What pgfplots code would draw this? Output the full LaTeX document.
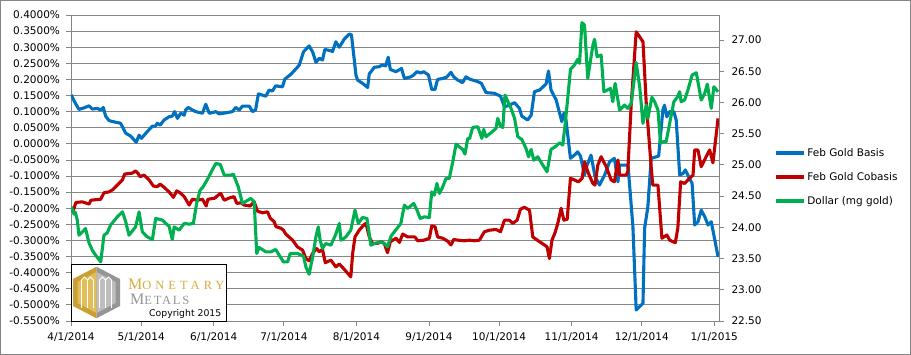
\documentclass[border=0pt]{standalone}
\usepackage{pgfplots}
\pgfplotsset{compat=1.18}
\usepackage{fontspec}
\setmainfont{DejaVu Sans}
\newfontfamily\logoserif[LetterSpace=32]{Liberation Serif}
\newfontfamily\logoserifb[LetterSpace=14]{Liberation Serif}
\definecolor{xblue}{RGB}{0,112,192}
\definecolor{xred}{RGB}{192,0,0}
\definecolor{xgreen}{RGB}{0,176,80}
\definecolor{gridgray}{RGB}{134,134,134}
\definecolor{goldA}{RGB}{201,160,52}
\definecolor{goldB}{RGB}{226,190,90}
\definecolor{goldT}{RGB}{214,172,60}
\definecolor{metalA}{RGB}{150,150,150}
\definecolor{metalB}{RGB}{190,190,190}
\begin{document}
\begin{tikzpicture}[x=1pt,y=1pt]
\useasboundingbox (0,0) rectangle (911,355);
\fill[white] (0,0) rectangle (911,355);
\draw[gridgray, line width=1pt] (0.5,0.5) rectangle (910.5,354.5);
\pgfplotsset{
  every axis/.append style={
    at={(71pt,34pt)}, anchor=south west, scale only axis,
    width=648pt, height=306pt, xmin=0, xmax=277,
    /pgf/number format/assume math mode=true,
    axis line style={gridgray, line width=0.8pt},
    major tick length=5pt, tick align=outside,
    tick style={gridgray, line width=0.8pt},
    tick label style={font=\fontsize{10.5}{12}\selectfont},
    line join=round,
  }
}
\begin{axis}[
  ymin=-0.55, ymax=0.4,
  axis x line*=bottom, axis y line*=left,
  ytick={-0.55,-0.5,-0.45,-0.4,-0.35,-0.3,-0.25,-0.2,-0.15,-0.1,-0.05,0,0.05,0.1,0.15,0.2,0.25,0.3,0.35,0.4},
  yticklabel={\pgfmathprintnumber[fixed,fixed zerofill,precision=4]{\tick}\%},
  yticklabel style={xshift=-2.5pt},
  xticklabel style={yshift=-3pt},
  xtick={0,30,61,91,122,153,183,214,244,275},
  xticklabels={4/1/2014,5/1/2014,6/1/2014,7/1/2014,8/1/2014,9/1/2014,10/1/2014,11/1/2014,12/1/2014,1/1/2015},
  ymajorgrids, major grid style={gridgray, line width=0.8pt},
]
\addplot[xblue, line width=3.1pt] table {
0.1 0.152
1.5 0.131
3.4 0.107
5.3 0.111
7.7 0.118
9.1 0.108
11.3 0.110
12.7 0.105
13.8 0.113
14.8 0.086
16.3 0.072
19.1 0.067
21.2 0.064
22.4 0.047
23.4 0.033
25.5 0.024
27.0 0.012
27.9 0.005
29.1 0.027
30.1 0.017
32.6 0.038
34.8 0.055
36.1 0.055
36.9 0.064
38.1 0.058
39.8 0.074
41.9 0.084
43.3 0.086
44.3 0.100
45.5 0.079
46.9 0.095
48.4 0.089
49.0 0.105
50.1 0.113
51.9 0.105
53.3 0.100
56.2 0.095
57.6 0.123
59.1 0.095
60.5 0.097
61.9 0.100
63.3 0.093
66.0 0.096
69.0 0.100
70.4 0.113
71.9 0.105
73.3 0.117
76.2 0.117
77.6 0.100
78.9 0.105
80.1 0.155
83.3 0.148
84.7 0.167
86.1 0.164
87.5 0.180
90.4 0.177
91.4 0.201
94.0 0.216
96.8 0.238
97.6 0.245
99.4 0.286
101.8 0.304
103.3 0.285
104.7 0.253
106.2 0.266
107.5 0.260
108.5 0.293
111.1 0.289
111.8 0.286
113.2 0.317
114.7 0.300
116.8 0.325
119.0 0.341
119.9 0.338
121.8 0.214
122.5 0.198
124.6 0.188
126.8 0.175
127.5 0.217
129.7 0.238
131.5 0.239
133.2 0.245
134.5 0.242
135.6 0.269
136.5 0.231
138.9 0.224
140.1 0.229
141.3 0.234
142.5 0.203
145.3 0.208
146.5 0.214
147.9 0.224
149.5 0.220
150.7 0.224
152.8 0.214
154.2 0.169
155.6 0.169
156.7 0.200
158.9 0.203
160.6 0.207
162.4 0.222
163.6 0.208
165.3 0.198
167.4 0.190
168.8 0.208
170.4 0.201
173.9 0.193
175.4 0.188
177.4 0.159
181.0 0.157
182.4 0.152
183.6 0.148
185.3 0.115
187.4 0.120
189.6 0.128
191.7 0.110
192.7 0.086
195.2 0.074
196.7 0.089
198.1 0.162
200.3 0.167
203.1 0.186
204.1 0.226
205.2 0.167
207.4 0.136
209.8 0.069
210.7 0.095
211.6 0.074
213.5 -0.045
215.2 -0.035
216.6 -0.025
217.8 -0.038
219.5 -0.097
220.6 -0.066
222.3 -0.035
224.0 -0.102
225.9 -0.128
228.1 -0.097
230.2 -0.056
232.3 -0.045
233.8 -0.118
234.5 -0.066
238.1 -0.066
240.2 -0.257
241.6 -0.516
244.5 -0.495
245.2 -0.262
246.6 -0.195
248.0 -0.045
251.2 -0.038
253.0 0.105
253.7 0.120
254.7 0.084
255.9 0.100
257.7 0.100
258.7 0.074
260.2 -0.097
261.6 -0.092
262.6 -0.081
263.7 -0.097
265.5 -0.123
266.6 -0.252
268.0 -0.242
269.4 -0.206
270.9 -0.226
272.3 -0.252
273.7 -0.242
276.6 -0.351
};
\addplot[xred, line width=3.1pt] table {
0.6 -0.211
1.3 -0.200
2.1 -0.182
4.8 -0.180
7.7 -0.187
8.5 -0.175
12.7 -0.172
14.1 -0.152
16.3 -0.149
17.7 -0.143
19.8 -0.128
22.0 -0.112
22.9 -0.094
24.8 -0.092
26.2 -0.091
27.6 -0.084
28.7 -0.092
29.5 -0.102
31.2 -0.097
33.4 -0.112
35.2 -0.131
36.9 -0.133
38.1 -0.125
39.8 -0.135
41.9 -0.149
43.8 -0.166
45.2 -0.146
46.8 -0.153
48.4 -0.164
50.5 -0.190
51.9 -0.172
54.0 -0.175
56.2 -0.172
57.8 -0.193
58.5 -0.172
61.3 -0.169
63.5 -0.156
64.0 -0.154
65.5 -0.175
67.7 -0.168
69.7 -0.164
70.9 -0.185
72.6 -0.183
74.0 -0.190
76.6 -0.193
78.3 -0.180
79.7 -0.209
81.9 -0.214
84.0 -0.211
85.2 -0.231
86.9 -0.242
87.6 -0.257
89.7 -0.262
90.8 -0.268
91.8 -0.280
94.7 -0.299
96.8 -0.320
99.0 -0.330
100.4 -0.356
101.8 -0.363
103.3 -0.340
105.0 -0.325
106.1 -0.335
107.5 -0.328
108.7 -0.369
111.1 -0.361
113.2 -0.382
114.7 -0.373
116.5 -0.387
119.6 -0.413
120.4 -0.340
121.4 -0.289
123.2 -0.268
125.4 -0.250
126.1 -0.247
127.5 -0.289
128.9 -0.309
131.1 -0.309
132.5 -0.304
133.9 -0.309
135.3 -0.338
136.5 -0.304
138.9 -0.293
140.4 -0.306
141.8 -0.280
143.9 -0.289
147.0 -0.289
148.2 -0.301
151.0 -0.299
153.2 -0.293
154.2 -0.255
155.6 -0.257
156.7 -0.289
158.9 -0.293
161.0 -0.302
162.4 -0.314
163.6 -0.297
165.3 -0.299
168.2 -0.301
170.4 -0.299
172.4 -0.301
174.6 -0.299
176.7 -0.273
178.9 -0.268
181.7 -0.266
183.6 -0.273
185.3 -0.237
187.4 -0.237
188.8 -0.247
190.7 -0.237
192.1 -0.203
193.8 -0.197
196.0 -0.206
197.4 -0.289
200.3 -0.304
202.4 -0.314
203.5 -0.320
204.5 -0.356
205.6 -0.299
206.9 -0.276
208.1 -0.247
209.5 -0.200
210.7 -0.237
212.1 -0.234
213.5 -0.107
215.2 -0.112
216.9 -0.118
218.5 -0.107
219.5 -0.056
221.2 -0.092
223.1 -0.123
224.0 -0.128
225.2 -0.066
226.6 -0.040
228.8 -0.071
230.9 -0.112
232.3 -0.118
233.8 -0.050
234.5 -0.097
237.3 -0.097
238.0 -0.087
239.5 0.126
241.6 0.348
244.5 0.317
245.9 0.126
248.0 -0.071
248.7 -0.128
250.9 -0.128
252.6 -0.293
254.7 -0.283
255.9 -0.299
258.3 -0.307
259.4 -0.262
260.6 -0.118
262.3 -0.123
264.4 -0.107
265.9 -0.097
266.6 -0.019
268.0 -0.019
269.4 -0.071
271.5 -0.040
273.0 -0.019
274.4 -0.059
276.6 0.079
};
\end{axis}
\begin{axis}[
  ymin=22.5, ymax=27.4,
  axis x line=none, axis y line*=right,
  ytick={22.5,23,23.5,24,24.5,25,25.5,26,26.5,27},
  yticklabel={\pgfmathprintnumber[fixed,fixed zerofill,precision=2]{\tick}},
  yticklabel style={xshift=4pt},
  legend image code/.code={\draw[#1] (0pt,0pt) -- (28pt,0pt);},
  legend style={at={(1.085,0.4706)}, anchor=west, draw=none, fill=none,
    font=\fontsize{10.5}{12}\selectfont, row sep=10.5pt, inner sep=0pt,
    cells={anchor=west}},
]
\addlegendimage{xblue, line width=3.1pt}
\addlegendentry{Feb Gold Basis}
\addlegendimage{xred, line width=3.1pt}
\addlegendentry{Feb Gold Cobasis}
\addplot[xgreen, line width=3.1pt] table {
0.1 24.328
1.3 24.211
1.8 24.243
2.7 24.115
3.4 23.874
5.6 23.954
6.2 23.982
7.7 23.751
9.1 23.634
10.5 23.554
12.7 23.447
14.1 23.874
15.5 23.911
16.9 24.035
19.8 24.168
22.0 24.248
23.4 24.088
24.8 23.874
27.6 24.007
29.1 24.248
30.5 23.927
32.6 23.847
34.8 23.806
36.2 24.142
39.1 24.115
40.5 24.062
41.9 24.019
43.3 23.806
44.1 24.007
46.2 23.954
48.4 24.062
50.5 24.051
52.3 24.062
53.7 24.382
55.2 24.596
56.3 24.639
58.3 24.767
60.5 24.927
61.9 25.023
63.8 25.007
65.5 24.836
68.3 24.836
69.4 24.852
71.5 24.648
73.3 24.382
75.1 24.424
76.9 24.463
78.3 24.408
79.4 23.581
80.4 23.677
83.3 23.607
85.4 23.607
87.5 23.645
89.0 23.554
90.8 23.447
92.6 23.447
93.7 23.581
96.8 23.581
99.4 23.538
100.4 23.366
101.8 23.249
103.3 23.527
104.7 23.847
105.7 24.007
106.5 23.794
107.5 23.661
108.9 23.741
111.1 23.714
113.2 23.890
114.7 24.062
115.4 23.794
117.5 23.847
119.6 23.954
121.4 24.275
122.8 24.062
124.6 24.158
126.5 24.142
128.2 23.714
129.7 23.741
132.5 23.767
133.9 23.741
135.3 23.687
136.8 23.859
138.2 23.927
141.0 24.062
142.5 24.355
143.9 24.302
146.5 24.382
147.9 24.275
149.3 24.142
151.0 24.168
153.2 24.158
154.2 24.568
155.3 24.515
156.4 24.703
157.5 24.543
158.9 24.648
160.3 24.783
161.7 24.783
163.2 25.049
164.6 25.333
166.0 25.289
167.4 25.248
168.4 25.172
169.6 25.424
170.4 25.421
171.7 25.600
173.9 25.610
175.6 25.424
176.4 25.568
177.4 25.450
179.5 25.514
181.7 25.584
182.4 25.745
183.6 25.621
184.6 25.600
185.5 26.118
188.1 25.905
189.6 25.745
191.0 25.450
192.7 25.408
194.5 25.264
195.6 25.129
196.7 25.248
197.8 25.076
199.5 25.129
201.7 24.996
203.5 24.889
205.2 25.248
207.4 25.301
208.8 25.354
210.2 25.317
211.2 25.637
212.4 26.091
213.5 26.530
215.2 26.599
216.6 26.690
217.4 26.626
218.4 27.277
219.5 27.240
220.9 26.386
223.1 26.919
223.8 27.011
224.9 26.732
226.6 26.759
227.8 26.171
230.6 26.225
231.6 26.011
232.6 26.305
234.5 25.878
236.6 25.958
238.0 25.905
239.5 25.985
241.6 26.636
243.1 26.251
244.5 25.664
245.9 25.958
246.6 25.745
248.3 26.081
249.5 26.011
250.9 25.878
252.0 25.344
253.0 25.370
254.4 25.370
255.9 25.664
257.7 26.011
259.1 26.081
260.2 26.171
260.8 26.011
262.3 26.038
263.7 26.198
265.5 26.438
267.3 26.475
269.4 26.038
270.9 26.145
272.0 26.294
273.7 25.905
274.8 26.251
276.6 26.171
};
\addlegendentry{Dollar (mg gold)}
\end{axis}
% logo box
\fill[white] (71,34) rectangle (226.7,90.7);
\draw[black, line width=0.8pt] (71,34) rectangle (226.7,90.7);
\fill[goldA] (96.5,88.3)--(73,76)--(73,49)--(96.5,36.7)--cycle;
\fill[goldB] (96.5,83)--(77.5,73)--(77.5,52)--(96.5,42)--cycle;
\fill[metalA] (96.5,88.3)--(120,76)--(120,49)--(96.5,36.7)--cycle;
\fill[metalB] (96.5,83)--(115.5,73)--(115.5,52)--(96.5,42)--cycle;
\foreach \xx in {81.5,87.5,93.5,99.5,105.5,111.5}
  \draw[white, line width=1.4pt] (\xx,47)--(\xx,75);
\draw[white, line width=1pt] (81.5,75)--(84.5,78)--(87.5,75) (87.5,75)--(90.5,78)--(93.5,75);
\draw[white, line width=1pt] (99.5,75)--(102.5,78)--(105.5,75) (105.5,75)--(108.5,78)--(111.5,75);
\node[anchor=base west, inner sep=0pt, text=goldT] at (128,65)
  {\logoserif\fontsize{16}{16}\selectfont M\fontsize{12.5}{12}\selectfont ONETARY};
\node[anchor=base west, inner sep=0pt, text=metalA] at (130,50)
  {\logoserifb\fontsize{16}{16}\selectfont M\fontsize{12.5}{12}\selectfont ETALS};
\node[anchor=base west, inner sep=0pt] at (149,38.3)
  {\fontsize{9.3}{10}\selectfont Copyright 2015};
\end{tikzpicture}
\end{document}
